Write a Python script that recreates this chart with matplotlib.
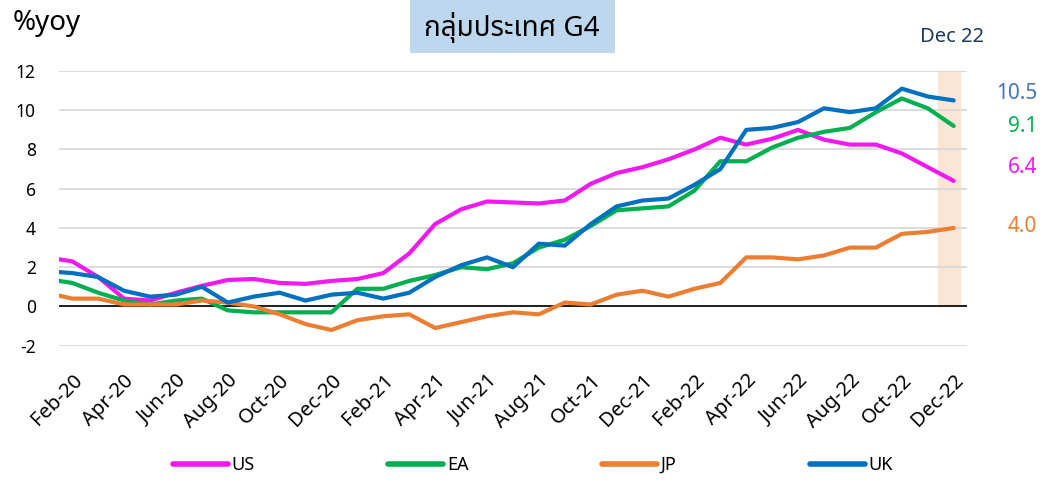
import matplotlib
matplotlib.use("Agg")
import numpy as np
import matplotlib.pyplot as plt
from matplotlib import font_manager
from matplotlib.patches import Rectangle

# --- fonts: Thai title needs a Thai-capable family ---
installed = set(f.name for f in font_manager.fontManager.ttflist)
THAI_FONT = next((n for n in ["Noto Sans Thai", "Noto Sans Thai UI", "Sarabun", "Kanit", "Prompt"]
                  if n in installed), "DejaVu Sans")
BASE_FONT = next((n for n in ["Noto Sans", "Open Sans", "DejaVu Sans"] if n in installed), "DejaVu Sans")
plt.rcParams['font.family'] = [BASE_FONT, THAI_FONT, 'DejaVu Sans']
plt.rcParams['axes.unicode_minus'] = False

# --- data: Jan-20 .. Dec-22, %yoy (Jan-20 only shows as the clipped start) ---
months = ["Jan-20", "Feb-20", "Mar-20", "Apr-20", "May-20", "Jun-20", "Jul-20", "Aug-20", "Sep-20",
          "Oct-20", "Nov-20", "Dec-20", "Jan-21", "Feb-21", "Mar-21", "Apr-21", "May-21", "Jun-21",
          "Jul-21", "Aug-21", "Sep-21", "Oct-21", "Nov-21", "Dec-21", "Jan-22", "Feb-22", "Mar-22",
          "Apr-22", "May-22", "Jun-22", "Jul-22", "Aug-22", "Sep-22", "Oct-22", "Nov-22", "Dec-22"]
us = [2.5, 2.3, 1.5, 0.4, 0.3, 0.7, 1.05, 1.35, 1.4, 1.2, 1.15, 1.3,
      1.4, 1.7, 2.7, 4.2, 4.95, 5.35, 5.3, 5.25, 5.4, 6.25, 6.8, 7.1,
      7.5, 8.0, 8.6, 8.25, 8.55, 9.0, 8.5, 8.25, 8.25, 7.8, 7.1, 6.4]
ea = [1.4, 1.2, 0.7, 0.3, 0.1, 0.3, 0.4, -0.2, -0.3, -0.3, -0.3, -0.3,
      0.9, 0.9, 1.3, 1.6, 2.0, 1.9, 2.2, 3.0, 3.4, 4.1, 4.9, 5.0,
      5.1, 5.9, 7.4, 7.4, 8.1, 8.6, 8.9, 9.1, 9.9, 10.6, 10.1, 9.2]
jp = [0.7, 0.4, 0.4, 0.1, 0.1, 0.1, 0.3, 0.2, 0.0, -0.4, -0.9, -1.2,
      -0.7, -0.5, -0.4, -1.1, -0.8, -0.5, -0.3, -0.4, 0.2, 0.1, 0.6, 0.8,
      0.5, 0.9, 1.2, 2.5, 2.5, 2.4, 2.6, 3.0, 3.0, 3.7, 3.8, 4.0]
uk = [1.8, 1.7, 1.5, 0.8, 0.5, 0.6, 1.0, 0.2, 0.5, 0.7, 0.3, 0.6,
      0.7, 0.4, 0.7, 1.5, 2.1, 2.5, 2.0, 3.2, 3.1, 4.2, 5.1, 5.4,
      5.5, 6.2, 7.0, 9.0, 9.1, 9.4, 10.1, 9.9, 10.1, 11.1, 10.7, 10.5]
last_labels = ["10.5", "9.1", "6.4", "4.0"]

C_US, C_EA, C_JP, C_UK = "#F218F0", "#00B050", "#ED7D31", "#0070C0"

x = np.arange(len(months)) - 1          # Feb-20 sits at 0
fig = plt.figure(figsize=(10.45, 4.82), dpi=100)
ax = fig.add_axes([0.0567, 0.2828, 0.8683, 0.5699])

# highlight the latest month
ax.axvspan(x[-1] - 0.62, x[-1] + 0.25, ymin=2 / 14, ymax=1, color="#FBE5D6", zorder=0)

lw = 3.0
ax.plot(x, us, color=C_US, lw=lw, label="US", zorder=3, solid_capstyle="round")
ax.plot(x, ea, color=C_EA, lw=lw, label="EA", zorder=3, solid_capstyle="round")
ax.plot(x, jp, color=C_JP, lw=lw, label="JP", zorder=3, solid_capstyle="round")
ax.plot(x, uk, color=C_UK, lw=lw, label="UK", zorder=4, solid_capstyle="round")
ax.axhline(0, color="black", lw=1.2, zorder=2)

ax.set_xlim(-0.5, x[-1] + 0.5)
ax.set_ylim(-2, 12)
ax.set_yticks(range(-2, 13, 2))
ax.yaxis.grid(True, color="#D9D9D9", lw=1.3)
ax.set_axisbelow(True)
for s in ax.spines.values():
    s.set_visible(False)
ax.tick_params(axis="both", length=0, labelsize=12.5)
ax.tick_params(axis="y", pad=17)

ax.set_xticks(x[1::2])
ax.set_xticklabels(months[1::2], rotation=45, ha="right", rotation_mode="anchor", fontsize=14.5)
ax.tick_params(axis="x", pad=18)

# end-of-series value labels (stacked beside the highlighted month)
for txt, ypos, col in zip(last_labels, [10.85, 9.15, 7.1, 4.1], ["#4472C4", C_EA, C_US, C_JP]):
    ax.annotate(txt, xy=(1.0, ypos), xycoords=("axes fraction", "data"), xytext=(51, 0),
                textcoords="offset points", ha="right", va="center", fontsize=15, color=col)

fig.text(0.012, 0.952, "%yoy", fontsize=20, va="center", ha="left")
fig.text(0.911, 0.923, "Dec 22", fontsize=14.5, va="center", ha="center", color="#1F3864",
         fontweight="semibold")
fig.patches.append(Rectangle((0.3923, 0.890), 0.1962, 0.11, transform=fig.transFigure,
                             fc="#BDD7EE", ec="none", zorder=0))
fig.text(0.4895, 0.942, "กลุ่มประเทศ G4", fontsize=20, ha="center", va="center",
         family=[THAI_FONT, "DejaVu Sans"])

leg = fig.legend(loc="center", bbox_to_anchor=(0.510, 0.035), ncol=4, frameon=False, fontsize=13,
                 handlelength=3.05, handletextpad=0.2, columnspacing=7.4)
for h in leg.get_lines():
    h.set_linewidth(4)

fig.savefig("out.png", dpi=100)
